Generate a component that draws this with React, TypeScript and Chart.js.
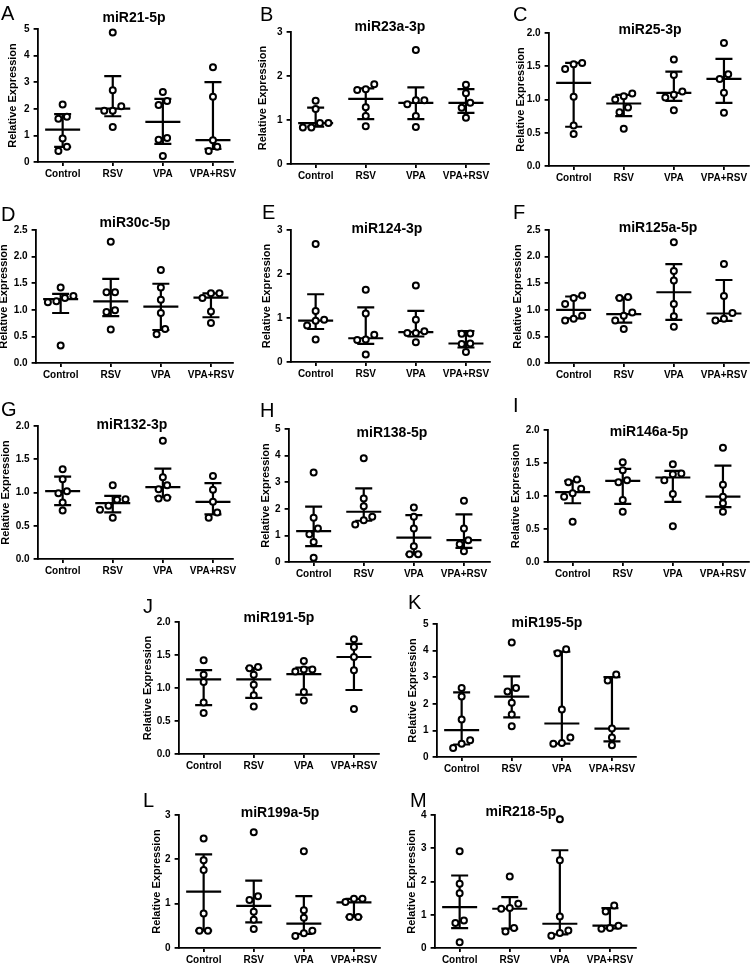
import React, { useEffect, useRef } from 'react';
import { Chart, registerables } from 'chart.js';

Chart.register(...registerables);

// ---------------- DATA ----------------
const categories = ['Control', 'RSV', 'VPA', 'VPA+RSV'];
const panelLetters = ['A', 'B', 'C', 'D', 'E', 'F', 'G', 'H', 'I', 'J', 'K', 'L', 'M'];
const panelTitles = ['miR21-5p', 'miR23a-3p', 'miR25-3p', 'miR30c-5p', 'miR124-3p', 'miR125a-5p', 'miR132-3p', 'miR138-5p', 'miR146a-5p', 'miR191-5p', 'miR195-5p', 'miR199a-5p', 'miR218-5p'];
const yMaxes = [5, 3, 2, 2.5, 3, 2.5, 2, 5, 2, 2, 5, 3, 4];
const yStepSizes = [1, 1, 0.5, 0.5, 1, 0.5, 0.5, 1, 0.5, 0.5, 1, 1, 1];
const yAxisTitle = 'Relative Expression';

// A miR21-5p
const miR21Points = [[2.16, 1.70, 1.63, 0.88, 0.57, 0.41], [4.87, 2.70, 2.10, 1.93, 1.93, 1.32], [2.63, 2.29, 2.14, 0.90, 0.84, 0.23], [3.56, 2.45, 0.82, 0.57, 0.41]];
const miR21Median = [1.22, 2.01, 1.51, 0.82];
const miR21Lower = [0.57, 1.72, 0.68, 0.49];
const miR21Upper = [1.80, 3.23, 2.37, 3.00];
// B miR23a-3p
const miR23aPoints = [[1.44, 1.25, 0.93, 0.93, 0.83, 0.83], [1.81, 1.70, 1.68, 1.29, 1.09, 0.86], [2.59, 1.45, 1.45, 1.36, 1.09, 0.84], [1.80, 1.61, 1.39, 1.28, 1.05]];
const miR23aMedian = [0.93, 1.48, 1.39, 1.39];
const miR23aLower = [0.85, 1.02, 1.02, 1.16];
const miR23aUpper = [1.28, 1.72, 1.74, 1.70];
// C miR25-3p
const miR25Points = [[1.55, 1.53, 1.46, 1.04, 0.61, 0.48], [1.09, 1.05, 1.00, 0.88, 0.81, 0.56], [1.60, 1.37, 1.12, 1.07, 1.03, 0.84], [1.85, 1.38, 1.31, 1.10, 0.80]];
const miR25Median = [1.25, 0.94, 1.10, 1.31];
const miR25Lower = [0.59, 0.75, 0.98, 0.95];
const miR25Upper = [1.55, 1.07, 1.42, 1.61];
// D miR30c-5p
const miR30cPoints = [[1.42, 1.26, 1.22, 1.16, 1.14, 0.33], [2.28, 1.33, 1.33, 0.99, 0.96, 0.63], [1.75, 1.42, 1.19, 0.94, 0.64, 0.54], [1.31, 1.31, 1.22, 0.97, 0.75]];
const miR30cMedian = [1.20, 1.16, 1.06, 1.23];
const miR30cLower = [0.94, 0.88, 0.62, 0.86];
const miR30cUpper = [1.30, 1.58, 1.49, 1.31];
// E miR124-3p
const miR124Points = [[2.68, 1.16, 0.96, 0.94, 0.83, 0.51], [1.64, 1.10, 0.62, 0.51, 0.50, 0.17], [1.74, 0.96, 0.70, 0.66, 0.66, 0.45], [0.65, 0.64, 0.42, 0.41, 0.23]];
const miR124Median = [0.94, 0.54, 0.68, 0.42];
const miR124Lower = [0.75, 0.41, 0.58, 0.33];
const miR124Upper = [1.54, 1.24, 1.16, 0.70];
// F miR125a-5p
const miR125aPoints = [[1.27, 1.22, 1.11, 0.89, 0.83, 0.80], [1.24, 1.22, 0.95, 0.89, 0.80, 0.64], [2.27, 1.73, 1.55, 1.11, 0.88, 0.68], [1.86, 1.26, 0.94, 0.83, 0.80]];
const miR125aMedian = [1.00, 0.92, 1.33, 0.93];
const miR125aLower = [0.84, 0.76, 0.81, 0.79];
const miR125aUpper = [1.25, 1.23, 1.86, 1.56];
// G miR132-3p
const miR132Points = [[1.35, 1.20, 1.02, 0.99, 0.85, 0.73], [1.11, 0.90, 0.89, 0.80, 0.74, 0.62], [1.78, 1.23, 1.11, 1.05, 0.92, 0.91], [1.25, 1.04, 0.86, 0.70, 0.62]];
const miR132Median = [1.02, 0.84, 1.08, 0.86];
const miR132Lower = [0.81, 0.70, 0.93, 0.67];
const miR132Upper = [1.24, 0.95, 1.36, 1.14];
// H miR138-5p
const miR138Points = [[3.36, 1.66, 1.26, 1.04, 0.75, 0.16], [3.90, 2.39, 2.10, 1.70, 1.57, 1.41], [2.05, 1.70, 1.26, 0.59, 0.29, 0.29], [2.30, 1.26, 0.82, 0.67, 0.40]];
const miR138Median = [1.16, 1.89, 0.92, 0.82];
const miR138Lower = [0.60, 1.55, 0.29, 0.53];
const miR138Upper = [2.08, 2.77, 1.76, 1.79];
// I miR146a-5p
const miR146aPoints = [[1.25, 1.21, 1.11, 1.04, 0.99, 0.61], [1.51, 1.39, 1.24, 1.21, 0.94, 0.76], [1.48, 1.34, 1.33, 1.24, 1.03, 0.54], [1.73, 1.17, 0.99, 0.89, 0.76]];
const miR146aMedian = [1.06, 1.23, 1.28, 0.99];
const miR146aLower = [0.89, 0.88, 0.91, 0.83];
const miR146aUpper = [1.23, 1.41, 1.38, 1.46];
// J miR191-5p
const miR191Points = [[1.42, 1.20, 1.09, 0.78, 0.62], [1.32, 1.30, 1.20, 1.05, 0.89, 0.72], [1.41, 1.28, 1.28, 1.25, 0.94, 0.81], [1.74, 1.62, 1.47, 1.27, 0.68]];
const miR191Median = [1.13, 1.13, 1.21, 1.47];
const miR191Lower = [0.74, 0.85, 0.90, 0.97];
const miR191Upper = [1.27, 1.30, 1.31, 1.67];
// K miR195-5p
const miR195Points = [[2.59, 2.27, 1.41, 0.63, 0.50, 0.34], [4.30, 2.59, 2.46, 2.04, 1.60, 1.16], [4.05, 3.90, 1.79, 0.73, 0.53, 0.50], [3.10, 2.88, 1.07, 0.73, 0.44]];
const miR195Median = [1.01, 2.27, 1.26, 1.07];
const miR195Lower = [0.47, 1.49, 0.50, 0.59];
const miR195Upper = [2.43, 3.03, 3.96, 3.00];
// L miR199a-5p
const miR199aPoints = [[2.47, 1.98, 1.76, 0.78, 0.39, 0.39], [2.61, 1.17, 1.08, 0.82, 0.64, 0.43], [2.18, 0.85, 0.68, 0.39, 0.33, 0.27], [1.11, 1.11, 1.04, 0.70, 0.70]];
const miR199aMedian = [1.27, 0.95, 0.55, 1.03];
const miR199aLower = [0.39, 0.58, 0.32, 0.70];
const miR199aUpper = [2.11, 1.52, 1.17, 1.11];
// M miR218-5p
const miR218Points = [[2.91, 1.93, 1.65, 0.83, 0.75, 0.17], [2.15, 1.33, 1.20, 1.18, 0.60, 0.50], [3.87, 2.64, 0.95, 0.53, 0.45, 0.37], [1.28, 1.10, 0.67, 0.60, 0.58]];
const miR218Median = [1.23, 1.18, 0.73, 0.67];
const miR218Lower = [0.60, 0.58, 0.41, 0.59];
const miR218Upper = [2.18, 1.53, 2.94, 1.20];

const panelData = [
  { points: miR21Points, median: miR21Median, lower: miR21Lower, upper: miR21Upper },
  { points: miR23aPoints, median: miR23aMedian, lower: miR23aLower, upper: miR23aUpper },
  { points: miR25Points, median: miR25Median, lower: miR25Lower, upper: miR25Upper },
  { points: miR30cPoints, median: miR30cMedian, lower: miR30cLower, upper: miR30cUpper },
  { points: miR124Points, median: miR124Median, lower: miR124Lower, upper: miR124Upper },
  { points: miR125aPoints, median: miR125aMedian, lower: miR125aLower, upper: miR125aUpper },
  { points: miR132Points, median: miR132Median, lower: miR132Lower, upper: miR132Upper },
  { points: miR138Points, median: miR138Median, lower: miR138Lower, upper: miR138Upper },
  { points: miR146aPoints, median: miR146aMedian, lower: miR146aLower, upper: miR146aUpper },
  { points: miR191Points, median: miR191Median, lower: miR191Lower, upper: miR191Upper },
  { points: miR195Points, median: miR195Median, lower: miR195Lower, upper: miR195Upper },
  { points: miR199aPoints, median: miR199aMedian, lower: miR199aLower, upper: miR199aUpper },
  { points: miR218Points, median: miR218Median, lower: miR218Lower, upper: miR218Upper },
];

// ---------------- LAYOUT (pixels) ----------------
// axisX: y-axis line x, top/bottom: plot area, right: end of x axis,
// gap: distance of y-title centre from axis, tX/tY: title centre, lX/lY: letter cap top-left
const layouts = [
  { axisX: 38, top: 29, bottom: 162, right: 233, gap: 25, tX: 134, tY: 17, lX: 1, lY: 6 },
  { axisX: 291, top: 32, bottom: 164, right: 489, gap: 28, tX: 390, tY: 26, lX: 260, lY: 7 },
  { axisX: 549, top: 33, bottom: 166, right: 749, gap: 28, tX: 650, tY: 29, lX: 513, lY: 7 },
  { axisX: 36, top: 230, bottom: 363, right: 233, gap: 32, tX: 135, tY: 222, lX: 1, lY: 207 },
  { axisX: 291, top: 230, bottom: 362, right: 490, gap: 24, tX: 387, tY: 228, lX: 262, lY: 205 },
  { axisX: 549, top: 230, bottom: 363, right: 749, gap: 31, tX: 658, tY: 227, lX: 513, lY: 205 },
  { axisX: 38, top: 426, bottom: 559, right: 233, gap: 32, tX: 132, tY: 424, lX: 1, lY: 402 },
  { axisX: 289, top: 429, bottom: 562, right: 490, gap: 23, tX: 392, tY: 432, lX: 260, lY: 403 },
  { axisX: 548, top: 430, bottom: 562, right: 749, gap: 32, tX: 649, tY: 431, lX: 513, lY: 398 },
  { axisX: 179, top: 622, bottom: 754, right: 379, gap: 31, tX: 279, tY: 617, lX: 143, lY: 599 },
  { axisX: 437, top: 624, bottom: 757, right: 636, gap: 24, tX: 547, tY: 622, lX: 408, lY: 595 },
  { axisX: 179, top: 815, bottom: 948, right: 380, gap: 22, tX: 280, tY: 812, lX: 143, lY: 793 },
  { axisX: 435, top: 815, bottom: 948, right: 636, gap: 23, tX: 521, tY: 811, lX: 410, lY: 793 },
];

const FONT = "'Liberation Sans', Arial, sans-serif";
const CAT_PX = 50; // px per category
const PAD_TOP = 12;
const PAD_RIGHT = 10;
const BOTTOM_H = 24;
const TITLE_OFF = 8.6; // y-title padding.top + lineHeight/2
const CAP_HALF = 8.5;
const MED_HALF = 17.5;
const SPREAD = 8.5;
const GAP_PX = 6.5;

function swarmOffsets(values: number[], pxPerUnit: number): number[] {
  const order = values.map((_, i) => i).sort((a, b) => values[a] - values[b]);
  const offs = new Array(values.length).fill(0);
  let cluster: number[] = [];
  const flush = () => {
    const n = cluster.length;
    cluster.forEach((id, k) => { offs[id] = (k - (n - 1) / 2) * SPREAD; });
    cluster = [];
  };
  for (const id of order) {
    if (cluster.length && (values[id] - values[cluster[cluster.length - 1]]) * pxPerUnit >= GAP_PX) flush();
    cluster.push(id);
  }
  flush();
  return offs;
}

function Panel({ idx }: { idx: number }) {
  const ref = useRef<HTMLCanvasElement | null>(null);
  const L = layouts[idx];
  const leftW = L.gap + TITLE_OFF;
  const plotW = L.right - L.axisX;
  const plotH = L.bottom - L.top;
  const cw = Math.round(leftW + plotW + PAD_RIGHT);
  const ch = Math.round(plotH + PAD_TOP + BOTTOM_H);
  const left = L.axisX - leftW;
  const top = L.top - PAD_TOP;

  useEffect(() => {
    if (!ref.current) return;
    const d = panelData[idx];
    const yMax = yMaxes[idx];
    const step = yStepSizes[idx];
    const pxPerUnit = plotH / yMax;
    const xMin = -0.5;
    const xMax = xMin + plotW / CAT_PX;
    const pts: { x: number; y: number }[] = [];
    d.points.forEach((vals, gi) => {
      const offs = swarmOffsets(vals, pxPerUnit);
      vals.forEach((v, k) => pts.push({ x: gi + offs[k] / CAT_PX, y: v }));
    });

    const iqrPlugin = {
      id: 'iqr',
      beforeDatasetsDraw(chart: any) {
        const { ctx } = chart;
        const xs = chart.scales.x;
        const ys = chart.scales.y;
        ctx.save();
        ctx.strokeStyle = '#000';
        ctx.lineWidth = 2.2;
        d.median.forEach((m, i) => {
          const cx = xs.getPixelForValue(i);
          const yl = ys.getPixelForValue(d.lower[i]);
          const yh = ys.getPixelForValue(d.upper[i]);
          const ym = ys.getPixelForValue(m);
          ctx.beginPath();
          ctx.moveTo(cx, yl); ctx.lineTo(cx, yh);
          ctx.moveTo(cx - CAP_HALF, yl); ctx.lineTo(cx + CAP_HALF, yl);
          ctx.moveTo(cx - CAP_HALF, yh); ctx.lineTo(cx + CAP_HALF, yh);
          ctx.moveTo(cx - MED_HALF, ym); ctx.lineTo(cx + MED_HALF, ym);
          ctx.stroke();
        });
        ctx.restore();
      },
    };

    const tickFont = { family: FONT, size: 10, weight: 'bold' as const };
    const chart = new Chart(ref.current, {
      type: 'scatter',
      data: {
        datasets: [{
          data: pts,
          pointRadius: 3,
          pointBorderWidth: 2,
          pointBorderColor: '#000',
          pointBackgroundColor: '#fff',
          pointStyle: 'circle',
          clip: false as any,
        }],
      },
      options: {
        animation: false,
        responsive: false,
        devicePixelRatio: 1,
        layout: { padding: { top: PAD_TOP, right: PAD_RIGHT, left: 0, bottom: 0 } },
        plugins: { legend: { display: false }, tooltip: { enabled: false }, title: { display: false } },
        scales: {
          x: {
            type: 'linear',
            min: xMin,
            max: xMax,
            afterBuildTicks: (s: any) => { s.ticks = [0, 1, 2, 3].map((v) => ({ value: v })); },
            afterFit: (s: any) => { s.height = BOTTOM_H; },
            ticks: {
              autoSkip: false,
              maxRotation: 0,
              padding: 2,
              color: '#000',
              font: tickFont,
              callback: (v: any) => categories[v as number] ?? '',
            },
            grid: { drawOnChartArea: false, drawTicks: true, tickLength: 4, color: '#000', lineWidth: 1.8 },
            border: { display: true, color: '#000', width: 1.8 },
          },
          y: {
            type: 'linear',
            min: 0,
            max: yMax,
            afterFit: (s: any) => { s.width = leftW; },
            ticks: {
              stepSize: step,
              padding: 4,
              color: '#000',
              font: tickFont,
              callback: (v: any) => (step < 1 ? Number(v).toFixed(1) : String(v)),
            },
            grid: { drawOnChartArea: false, drawTicks: true, tickLength: 4, color: '#000', lineWidth: 1.8 },
            border: { display: true, color: '#000', width: 1.8 },
            title: {
              display: true,
              text: yAxisTitle,
              color: '#000',
              font: { family: FONT, size: 11, weight: 'bold' },
              padding: { top: 2, bottom: 0 },
            },
          },
        },
      },
      plugins: [iqrPlugin],
    } as any);
    return () => chart.destroy();
  }, [idx]);

  return (
    <>
      <canvas
        ref={ref}
        width={cw}
        height={ch}
        style={{ position: 'absolute', left, top, width: cw, height: ch }}
      />
      <div
        style={{
          position: 'absolute', left: L.tX, top: L.tY, transform: 'translate(-50%, -50%)',
          font: `bold 14px ${FONT}`, lineHeight: '14px', whiteSpace: 'nowrap', color: '#000',
        }}
      >
        {panelTitles[idx]}
      </div>
      <div
        style={{
          position: 'absolute', left: L.lX, top: L.lY - 2.6,
          font: `normal 20px ${FONT}`, lineHeight: '20px', color: '#000',
        }}
      >
        {panelLetters[idx]}
      </div>
    </>
  );
}

export default function App() {
  useEffect(() => {
    document.body.style.margin = '0';
  }, []);
  return (
    <div
      style={{
        position: 'absolute', left: 0, top: 0, width: 750, height: 963,
        background: '#fff', overflow: 'hidden', fontFamily: FONT,
      }}
    >
      {panelTitles.map((_, i) => (
        <Panel key={i} idx={i} />
      ))}
    </div>
  );
}
